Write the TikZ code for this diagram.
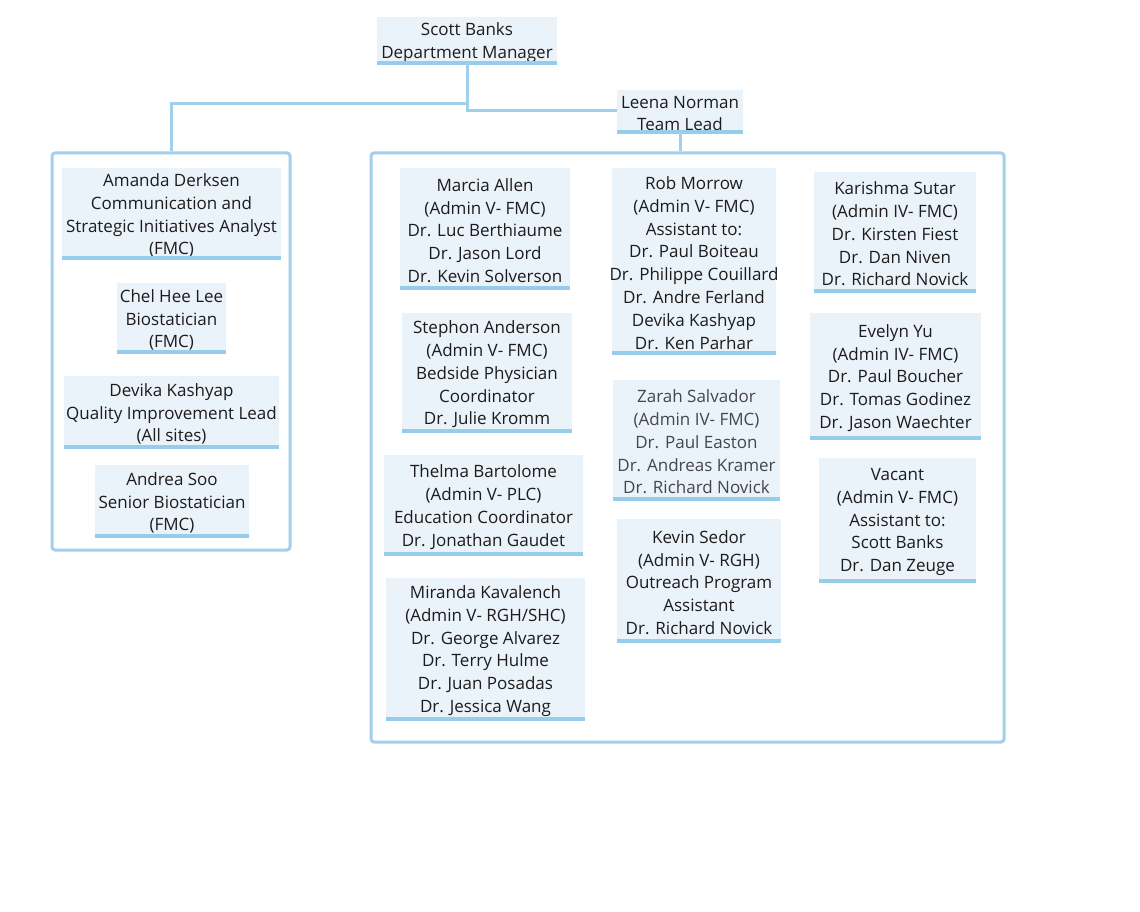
\documentclass[tikz,border=0pt]{standalone}
\usepackage{fontspec}
\setmainfont{Open Sans}
\definecolor{boxfill}{RGB}{234,243,250}
\definecolor{barblue}{RGB}{150,205,235}
\definecolor{linblue}{RGB}{160,208,235}
\definecolor{txt}{RGB}{30,27,28}
\definecolor{txtgrey}{RGB}{70,70,74}
\tikzset{
  obox/.style={fill=boxfill, inner sep=0pt},
  otext/.style={inner sep=0pt, align=center, text=txt,
    font=\fontsize{17}{22.8}\selectfont},
  bar/.style={draw=barblue, line width=4pt},
  conn/.style={draw=linblue, line width=3pt},
  grp/.style={draw=linblue, line width=3pt, rounded corners=3pt, inner sep=0pt},
}
\newcommand\orgbox[7][]{%
  \node[obox, minimum width={#5-#3}, minimum height={#6-#4}] (#2) at ({(#3+#5)/2},{(#4+#6)/2}) {};
  \node[otext,#1] (#2-t) at ([yshift=-2.5pt]#2.center) {#7};
  \draw[bar] (#2.south west) -- (#2.south east);}
\begin{document}
\begin{tikzpicture}[x=1pt,y=-1pt]
\useasboundingbox (0,0) rectangle (1140,912);
% group frames
\node[grp, minimum width=238, minimum height=397] (lg) at (171,351.5) {};
\node[grp, minimum width=633, minimum height=589] (rg) at (687.5,447.5) {};
% top
\orgbox{sb}{377}{17}{557}{63}{Scott Banks\\Department Manager}
\orgbox{ln}{617}{90}{743}{132}{Leena Norman\\Team Lead}
\coordinate (j1) at (469,104);
\draw[conn] (sb.south) |- (ln.west);
\draw[conn] (j1) -| (lg.north);
\draw[conn] (ln.south) -- (ln.south |- rg.north);
% left group
\orgbox{ad}{62}{168}{281}{258}{Amanda Derksen\\Communication and\\Strategic Initiatives Analyst\\(FMC)}
\orgbox{ch}{117}{283}{226}{352}{Chel Hee Lee\\Biostatician\\(FMC)}
\orgbox{dk}{64}{376}{279}{447}{Devika Kashyap\\Quality Improvement Lead\\(All sites)}
\orgbox{as}{95}{465}{249}{536}{Andrea Soo\\Senior Biostatician\\(FMC)}
% column 1
\orgbox{ma}{400}{168}{570}{288}{Marcia Allen\\(Admin V- FMC)\\Dr. Luc Berthiaume\\Dr. Jason Lord\\Dr. Kevin Solverson}
\orgbox{sa}{402}{313}{572}{431}{Stephon Anderson\\(Admin V- FMC)\\Bedside Physician\\Coordinator\\Dr. Julie Kromm}
\orgbox{tb}{384}{455}{583}{554}{Thelma Bartolome\\(Admin V- PLC)\\Education Coordinator\\Dr. Jonathan Gaudet}
\orgbox{mk}{386}{578}{585}{719}{Miranda Kavalench\\(Admin V- RGH/SHC)\\Dr. George Alvarez\\Dr. Terry Hulme\\Dr. Juan Posadas\\Dr. Jessica Wang}
% column 2
\orgbox{rm}{612}{168}{776}{353}{Rob Morrow\\(Admin V- FMC)\\Assistant to:\\Dr. Paul Boiteau\\Dr. Philippe Couillard\\Dr. Andre Ferland\\Devika Kashyap\\Dr. Ken Parhar}
\orgbox[text=txtgrey]{zs}{613}{380}{780}{499}{Zarah Salvador\\(Admin IV- FMC)\\Dr. Paul Easton\\Dr. Andreas Kramer\\Dr. Richard Novick}
\orgbox{ks}{617}{519}{781}{641}{Kevin Sedor\\(Admin V- RGH)\\Outreach Program\\Assistant\\Dr. Richard Novick}
% column 3
\orgbox{kas}{814}{172}{976}{291}{Karishma Sutar\\(Admin IV- FMC)\\Dr. Kirsten Fiest\\Dr. Dan Niven\\Dr. Richard Novick}
\orgbox{ey}{810}{313}{981}{438}{Evelyn Yu\\(Admin IV- FMC)\\Dr. Paul Boucher\\Dr. Tomas Godinez\\Dr. Jason Waechter}
\orgbox{va}{819}{458}{976}{581}{Vacant\\(Admin V- FMC)\\Assistant to:\\Scott Banks\\Dr. Dan Zeuge}
\end{tikzpicture}
\end{document}
